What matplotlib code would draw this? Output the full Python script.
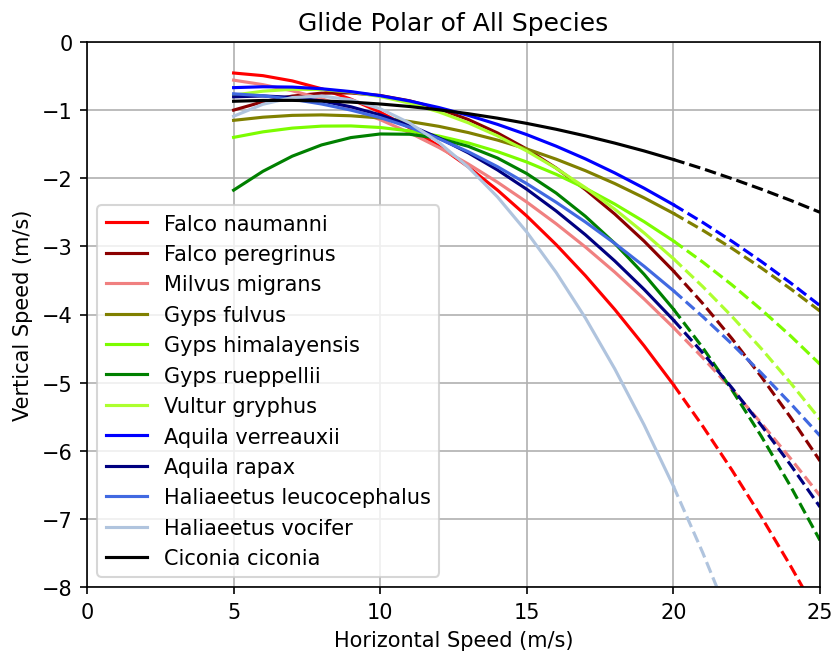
import numpy as np
import matplotlib
matplotlib.use("Agg")
from matplotlib import pyplot as plt

# horizontal speed (m/s), solid up to 20, dashed beyond
speeds = [5, 6, 7, 8, 9, 10, 11, 12, 13, 14, 15,
          16, 17, 18, 19, 20, 21, 22, 23, 24, 25]
measured_max = 20

species = ["Falco naumanni", "Falco peregrinus", "Milvus migrans", "Gyps fulvus",
           "Gyps himalayensis", "Gyps rueppellii", "Vultur gryphus", "Aquila verreauxii",
           "Aquila rapax", "Haliaeetus leucocephalus", "Haliaeetus vocifer", "Ciconia ciconia"]
colors = ["red", "darkred", "lightcoral", "olive", "lawngreen", "green",
          "greenyellow", "blue", "navy", "royalblue", "lightsteelblue", "black"]

# vertical speed (m/s)
falco_naumanni = [-0.455, -0.494, -0.571, -0.686, -0.839, -1.030, -1.259, -1.526, -1.831, -2.174, -2.555,
                  -2.974, -3.431, -3.926, -4.459, -5.030, -5.639, -6.286, -6.971, -7.694, -8.455]
falco_peregrinus = [-1.000, -0.877, -0.794, -0.751, -0.748, -0.785, -0.863, -0.980, -1.137, -1.335, -1.572,
                    -1.850, -2.167, -2.525, -2.923, -3.360, -3.838, -4.356, -4.914, -5.512, -6.150]
milvus_migrans = [-0.560, -0.626, -0.716, -0.832, -0.974, -1.140, -1.332, -1.548, -1.790, -2.058, -2.350,
                  -2.668, -3.010, -3.378, -3.772, -4.190, -4.634, -5.102, -5.596, -6.116, -6.660]
gyps_fulvus = [-1.150, -1.104, -1.077, -1.070, -1.083, -1.115, -1.167, -1.238, -1.329, -1.440, -1.570,
               -1.720, -1.889, -2.078, -2.287, -2.515, -2.763, -3.030, -3.317, -3.624, -3.950]
gyps_himalayensis = [-1.400, -1.319, -1.264, -1.235, -1.232, -1.255, -1.305, -1.380, -1.481, -1.609, -1.762,
                     -1.942, -2.147, -2.379, -2.637, -2.920, -3.230, -3.566, -3.929, -4.316, -4.730]
gyps_rueppellii = [-2.175, -1.898, -1.676, -1.511, -1.403, -1.350, -1.354, -1.414, -1.531, -1.703, -1.932,
                   -2.217, -2.559, -2.956, -3.410, -3.920, -4.487, -5.109, -5.788, -6.524, -7.315]
vultur_gryphus = [-0.780, -0.722, -0.694, -0.698, -0.734, -0.800, -0.898, -1.026, -1.186, -1.378, -1.600,
                  -1.854, -2.138, -2.454, -2.802, -3.180, -3.590, -4.030, -4.502, -5.006, -5.540]
aquila_verreauxii = [-0.670, -0.657, -0.662, -0.686, -0.728, -0.788, -0.866, -0.962, -1.076, -1.209, -1.360,
                     -1.529, -1.716, -1.922, -2.146, -2.388, -2.648, -2.926, -3.222, -3.537, -3.870]
aquila_rapax = [-0.805, -0.792, -0.812, -0.865, -0.951, -1.070, -1.223, -1.408, -1.626, -1.878, -2.162,
                -2.480, -2.830, -3.214, -3.631, -4.080, -4.563, -5.079, -5.628, -6.210, -6.825]
haliaeetus_leucocephalus = [-0.760, -0.790, -0.840, -0.910, -1.000, -1.110, -1.250, -1.420, -1.610, -1.830, -2.080,
                            -2.352, -2.643, -2.956, -3.292, -3.650, -4.031, -4.434, -4.860, -5.309, -5.780]
haliaeetus_vocifer = [-1.090, -0.914, -0.816, -0.794, -0.848, -0.980, -1.188, -1.474, -1.836, -2.274, -2.790,
                      -3.382, -4.052, -4.798, -5.620, -6.520, -7.496, -8.550, -9.680, -10.887, -12.170]
ciconia_ciconia = [-0.870, -0.858, -0.857, -0.865, -0.882, -0.910, -0.947, -0.995, -1.052, -1.118, -1.195,
                   -1.281, -1.378, -1.484, -1.599, -1.725, -1.860, -2.006, -2.161, -2.325, -2.500]

sink = [falco_naumanni, falco_peregrinus, milvus_migrans, gyps_fulvus, gyps_himalayensis,
        gyps_rueppellii, vultur_gryphus, aquila_verreauxii, aquila_rapax,
        haliaeetus_leucocephalus, haliaeetus_vocifer, ciconia_ciconia]

dpi = 150
fig = plt.figure(figsize=(835 / dpi, 655 / dpi), dpi=dpi)
ax = fig.add_axes([87 / 835, 1 - 588 / 655, (820 - 87) / 835, (588 - 43) / 655])

x = np.array(speeds)
inside = x <= measured_max
outside = x >= measured_max
for name, col, ys in zip(species, colors, sink):
    ys = np.array(ys)
    ax.plot(x[inside], ys[inside], color=col, lw=1.5, label=name)
    ax.plot(x[outside], ys[outside], color=col, lw=1.5, ls="--")

ax.set_xlim(0, 25)
ax.set_ylim(-8, 0)
ax.set_xlabel("Horizontal Speed (m/s)")
ax.set_ylabel("Vertical Speed (m/s)")
ax.set_title("Glide Polar of All Species")
ax.grid(True)
ax.legend(loc="lower left")

fig.savefig("out.png", dpi=dpi)
